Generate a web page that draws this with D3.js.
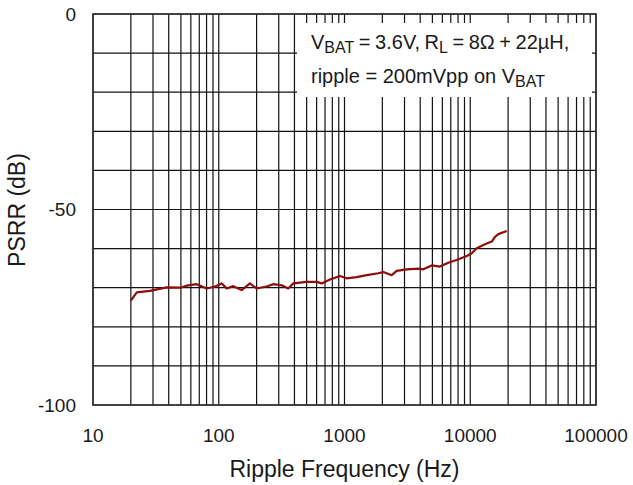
<!DOCTYPE html>
<html>
<head>
<meta charset="utf-8">
<script src="https://cdn.jsdelivr.net/npm/d3@7"></script>
<style>
  body { margin: 0; background: #fff; }
  text { font-family: Arial, "Liberation Sans", sans-serif; fill: #1a1a1a; }
</style>
</head>
<body>
<div id="chart"></div>
<script>
// Frequency (Hz) and PSRR (dB)
const freqHz = [20, 22.3, 28.4, 38.5, 49.2, 56.9, 66.8, 80.2, 93.3, 105.5, 115.7, 130.5, 152, 177, 200,
    240, 271, 317, 357, 392, 500, 601, 659, 767, 920, 1040, 1250, 1503, 1858, 2036, 2373, 2600,
    3126, 3864, 4237, 4934, 5743, 6684, 7800, 9380, 10280, 11250, 13100, 14830, 15740, 16720, 19500];
const psrrDb = [-73.3, -71.2, -70.8, -69.9, -70.0, -69.4, -69.1, -70.2, -69.7, -68.9, -70.2, -69.6, -70.6, -68.9, -70.2,
    -69.7, -69.1, -69.4, -70.2, -68.9, -68.5, -68.5, -68.9, -67.9, -67.0, -67.6, -67.3, -66.8, -66.3, -66.0, -66.8, -65.7,
    -65.3, -65.1, -65.3, -64.3, -64.6, -63.6, -62.9, -61.9, -61.2, -59.9, -58.9, -58.2, -57.0, -56.3, -55.5];

const xTicks = [10, 100, 1000, 10000, 100000];
const yTicks = [0, -50, -100];
const yGrid = d3.range(-100, 1, 10);

// Set up the SVG canvas dimensions
const W = 633, H = 485;
const margin = { top: 14, right: 37, bottom: 80, left: 93 };
const width = W - margin.left - margin.right;
const height = H - margin.top - margin.bottom;

const svg = d3.select("#chart").append("svg")
    .attr("width", W)
    .attr("height", H);

const g = svg.append("g")
    .attr("transform", `translate(${margin.left},${margin.top})`);

// Scales
const x = d3.scaleLog().domain([10, 100000]).range([0, width]);
const y = d3.scaleLinear().domain([-100, 0]).range([height, 0]);

// Vertical grid: every 1..9 of each decade
const xGrid = [];
for (let d = 10; d < 100000; d *= 10) {
    for (let k = 1; k <= 9; k++) xGrid.push(d * k);
}
xGrid.push(100000);

g.append("g").selectAll("line")
    .data(xGrid)
    .enter().append("line")
    .attr("x1", d => x(d)).attr("x2", d => x(d))
    .attr("y1", 0).attr("y2", height)
    .attr("stroke", "#111")
    .attr("stroke-width", 1.2);

g.append("g").selectAll("line")
    .data(yGrid)
    .enter().append("line")
    .attr("x1", 0).attr("x2", width)
    .attr("y1", d => y(d)).attr("y2", d => y(d))
    .attr("stroke", "#111")
    .attr("stroke-width", 1.2);

// Frame
g.append("rect")
    .attr("width", width)
    .attr("height", height)
    .attr("fill", "none")
    .attr("stroke", "#333")
    .attr("stroke-width", 1.6);

// Legend box (white, hides grid)
g.append("rect")
    .attr("x", 204)
    .attr("y", 9)
    .attr("width", 295)
    .attr("height", 74)
    .attr("fill", "#fff");

const note1 = g.append("text")
    .attr("x", 218)
    .attr("y", 35)
    .style("font-size", "20px")
    .style("word-spacing", "-1px");
note1.append("tspan").text("V");
note1.append("tspan").attr("dy", 4).style("font-size", "16px").text("BAT");
note1.append("tspan").attr("dy", -4).text(" = 3.6V, R");
note1.append("tspan").attr("dy", 4).style("font-size", "16px").text("L");
note1.append("tspan").attr("dy", -4).text(" = 8\u03A9 + 22\u00B5H,");

const note2 = g.append("text")
    .attr("x", 218)
    .attr("y", 69)
    .style("font-size", "20px");
note2.append("tspan").text("ripple = 200mVpp on V");
note2.append("tspan").attr("dy", 4).style("font-size", "16px").text("BAT");

// PSRR curve
const line = d3.line()
    .x((d, i) => x(freqHz[i]))
    .y(d => y(d));

g.append("path")
    .datum(psrrDb)
    .attr("fill", "none")
    .attr("stroke", "#8e0c0c")
    .attr("stroke-width", 2.2)
    .attr("stroke-linejoin", "round")
    .attr("d", line);

// Tick labels
g.append("g").selectAll("text")
    .data(xTicks)
    .enter().append("text")
    .attr("x", d => x(d))
    .attr("y", height + 37)
    .attr("text-anchor", "middle")
    .style("font-size", "19px")
    .text(d => d);

g.append("g").selectAll("text")
    .data(yTicks)
    .enter().append("text")
    .attr("x", -17)
    .attr("y", d => y(d))
    .attr("dy", "0.35em")
    .attr("text-anchor", "end")
    .style("font-size", "19px")
    .text(d => d);

// Axis titles
svg.append("text")
    .attr("x", 344.5)
    .attr("y", 477)
    .attr("text-anchor", "middle")
    .style("font-size", "23px")
    .text("Ripple Frequency (Hz)");

svg.append("text")
    .attr("transform", "rotate(-90)")
    .attr("x", -210)
    .attr("y", 25)
    .attr("text-anchor", "middle")
    .style("font-size", "23px")
    .text("PSRR (dB)");
</script>
</body>
</html>
